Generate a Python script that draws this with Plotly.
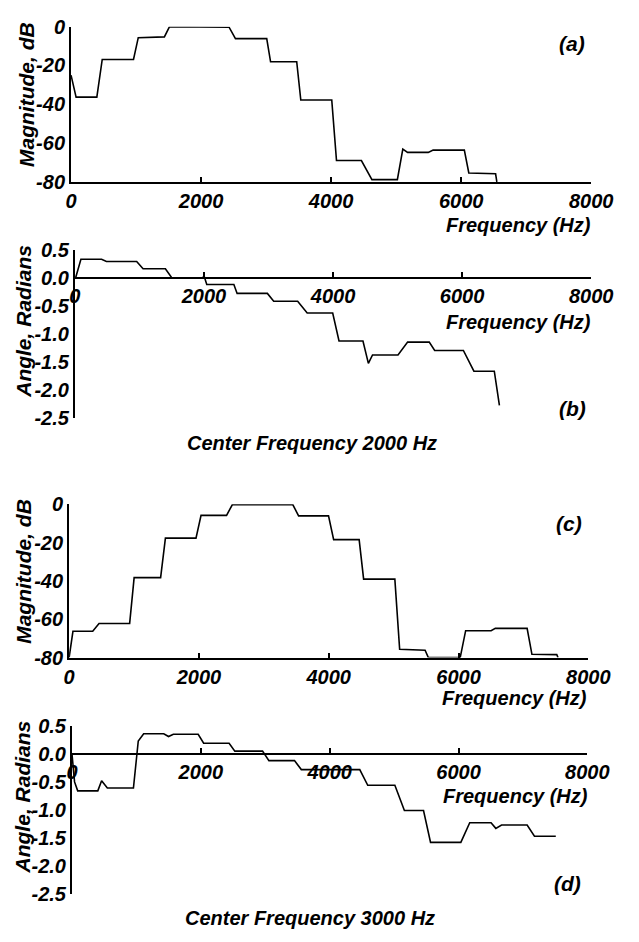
import plotly.graph_objects as go

# ---------------- data ----------------
# (a) magnitude, centre frequency 2000 Hz
a_freq = [0, 78, 397, 480, 961, 1034, 1436, 1515, 2431, 2529, 3010, 3069, 3471, 3534,
          4010, 4083, 4466, 4560, 4628, 5019, 5103, 5176, 5495, 5569, 6049, 6118, 6530, 6549]
a_mag = [-25, -36.3, -36.3, -16.9, -16.9, -5.7, -5.3, 0, -0.3, -6.2, -6.2, -18.1, -18.1, -37.8,
         -37.8, -69, -69, -75, -78.8, -78.8, -63.1, -64.8, -64.8, -63.6, -63.6, -75.4, -75.8, -80]

# (b) phase, centre frequency 2000 Hz
b_freq = [10, 94, 415, 489, 958, 1057, 1403, 1501, 1985, 2000, 2044, 2464, 2514, 2983, 3081,
          3452, 3600, 3995, 4093, 4464, 4548, 4612, 5007, 5156, 5491, 5575, 6020, 6183, 6499, 6578]
b_ang = [0, 0.34, 0.34, 0.30, 0.30, 0.17, 0.17, 0.01, 0.01, 0.05, -0.11, -0.11, -0.27, -0.27, -0.41,
         -0.41, -0.62, -0.62, -1.12, -1.12, -1.52, -1.37, -1.37, -1.14, -1.14, -1.29, -1.29, -1.66, -1.66, -2.27]

# (c) magnitude, centre frequency 3000 Hz
c_freq = [0, 59, 364, 461, 933, 1002, 1410, 1484, 1955, 2033, 2426, 2514, 3448, 3536,
          3997, 4076, 4469, 4538, 5019, 5093, 5485, 5535, 6026, 6110, 6502, 6567, 7057, 7131, 7514, 7533]
c_mag = [-80, -66.3, -66.3, -62.2, -62.2, -38.3, -38.3, -17.7, -17.7, -5.8, -5.8, -0.3, -0.3, -6.1,
         -6.1, -18.5, -18.5, -39.1, -39.1, -75.7, -76.2, -80, -80, -66, -66, -64.8, -64.8, -78.3, -78.5, -80]

# (d) phase, centre frequency 3000 Hz
d_freq = [0, 40, 89, 401, 460, 549, 954, 1029, 1113, 1425, 1499, 1573, 1959, 2044, 2439, 2528,
          2958, 3057, 3454, 3537, 3560, 4467, 4591, 5012, 5160, 5457, 5566, 6036, 6174, 6505, 6579,
          6668, 7065, 7179, 7510]
d_ang = [0, -0.50, -0.66, -0.66, -0.48, -0.61, -0.61, 0.23, 0.36, 0.36, 0.31, 0.35, 0.35, 0.19, 0.19,
         0.05, 0.05, -0.12, -0.12, -0.26, -0.28, -0.28, -0.56, -0.56, -1.01, -1.01, -1.58, -1.58, -1.23,
         -1.23, -1.33, -1.27, -1.27, -1.47, -1.47]

freq_ticks = [0, 2000, 4000, 6000, 8000]
freq_ticktext = ["0", "2000", "4000", "6000", "8000"]
mag_ticks = [0, -20, -40, -60, -80]
mag_ticktext = ["0", "-20", "-40", "-60", "-80"]
ang_ticks = [0.5, 0.0, -0.5, -1.0, -1.5, -2.0, -2.5]
ang_ticktext = ["0.5", "0.0", "-0.5", "-1.0", "-1.5", "-2.0", "-2.5"]

# ---------------- figure ----------------
W, H = 639, 942
FONT = dict(family="Liberation Sans, Arial, sans-serif", size=20, color="black",
            weight="bold", style="italic")

fig = go.Figure()
line = dict(color="black", width=1.6)
fig.add_trace(go.Scatter(x=a_freq, y=a_mag, mode="lines", line=line, xaxis="x", yaxis="y"))
fig.add_trace(go.Scatter(x=b_freq, y=b_ang, mode="lines", line=line, xaxis="x2", yaxis="y2"))
fig.add_trace(go.Scatter(x=c_freq, y=c_mag, mode="lines", line=line, xaxis="x3", yaxis="y3"))
fig.add_trace(go.Scatter(x=d_freq, y=d_ang, mode="lines", line=line, xaxis="x4", yaxis="y4"))


def px_x(p):
    return p / W


def px_y(p):
    return 1 - p / H


panels = {
    # name: (x left px, x right px, y top px, y bottom px)
    "1": (68, 612, 16, 175),
    "2": (72, 612, 245, 417),
    "3": (66, 609, 505, 662),
    "4": (69, 608, 732, 904),
}

def xaxis_common(dom):
    return dict(domain=dom, range=[0, 8000], tickvals=freq_ticks, ticktext=freq_ticktext,
                showgrid=False, zeroline=False, showline=True, linecolor="black", linewidth=2,
                ticks="inside", ticklen=5, tickwidth=1.5, tickcolor="black",
                tickfont=FONT, fixedrange=True)


def yaxis_common(dom, rng, vals, text, anchor):
    return dict(domain=dom, range=rng, tickvals=vals, ticktext=text, anchor=anchor,
                showgrid=False, zeroline=False, showline=True, linecolor="black", linewidth=2,
                ticks="", tickfont=FONT, fixedrange=True)


layout = {}
for k, (l, r, t, b) in panels.items():
    xd = [px_x(l), px_x(r)]
    yd = [px_y(b), px_y(t)]
    xname = "xaxis" if k == "1" else "xaxis" + k
    yname = "yaxis" if k == "1" else "yaxis" + k
    xref = "x" if k == "1" else "x" + k
    yref = "y" if k == "1" else "y" + k
    xa = xaxis_common(xd)
    if k in ("1", "3"):
        ya = yaxis_common(yd, [-80, 0], mag_ticks, mag_ticktext, xref)
        xa.update(anchor=yref)
    else:
        rng = [-2.5, 0.5]
        ya = yaxis_common(yd, rng, ang_ticks, ang_ticktext, xref)
        # x axis drawn through angle = 0
        pos = yd[0] + (0 - rng[0]) / (rng[1] - rng[0]) * (yd[1] - yd[0])
        xa.update(anchor="free", position=pos)
    layout[xname] = xa
    layout[yname] = ya

fig.update_layout(**layout)

ann = []
def text(x, y, s, xanchor="center", angle=0, size=21):
    f = dict(FONT)
    f["size"] = size
    ann.append(dict(x=px_x(x), y=px_y(y), xref="paper", yref="paper", text=s, showarrow=False,
                    xanchor=xanchor, yanchor="middle", textangle=angle, font=f))

# axis titles
text(614, 219, "Frequency (Hz)", xanchor="right", size=20)
text(614, 318, "Frequency (Hz)", xanchor="right", size=20)
text(610, 703, "Frequency (Hz)", xanchor="right", size=20)
text(611, 804, "Frequency (Hz)", xanchor="right", size=20)
text(22, 86, "Magnitude, dB", angle=-90)
text(18, 318, "Angle, Radians", angle=-90)
text(18, 574, "Magnitude, dB", angle=-90)
text(17, 805, "Angle, Radians", angle=-90)
# panel labels
text(592, 33, "(a)")
text(592, 407, "(b)")
text(589, 525, "(c)")
text(587, 893, "(d)")
# captions
text(320, 442, "Center Frequency 2000 Hz", size=20)
text(318, 929, "Center Frequency 3000 Hz", size=20)

fig.update_layout(
    width=W, height=H, margin=dict(l=0, r=0, t=0, b=0),
    paper_bgcolor="white", plot_bgcolor="white", showlegend=False,
    annotations=ann, font=FONT,
)

fig.write_html("out.html", config={"displayModeBar": False},
               post_script="document.body.style.margin='0';")
